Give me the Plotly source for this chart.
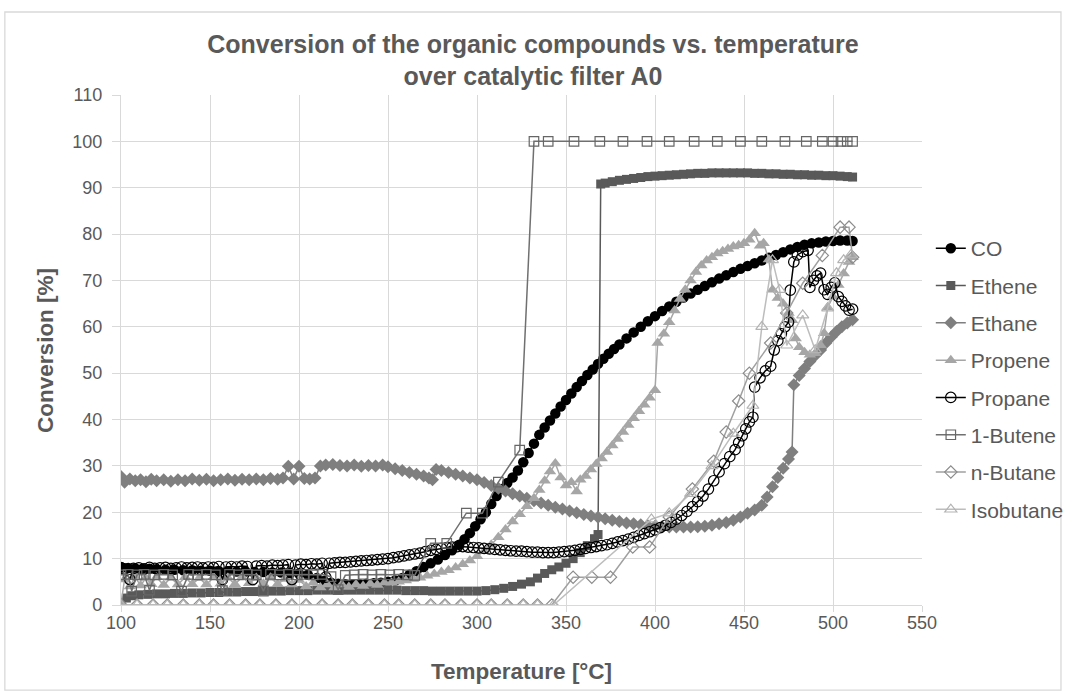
import plotly.graph_objects as go

# ---- data: (temperature degC, conversion %) ----
CO_PTS = [(100,8.2),(104,8.0),(108,7.9),(112,7.8),(116,7.8),(120,7.7),(125,7.6),(130,7.6),(135,7.5),(140,7.5),
          (145,7.4),(150,7.4),(155,7.3),(160,7.3),(165,7.2),(170,7.2),(175,7.1),(180,7.1),(185,7.0),(190,7.0),
          (195,6.9),(200,6.8),(205,6.5),(210,5.8),(214,5.2),(218,4.8),(222,4.6),(226,4.5),(230,4.5),(234,4.5),
          (238,4.6),(242,4.7),(246,4.8),(250,5.0),(254,5.3),(258,5.8),(262,6.5),(266,7.3),(270,8.2),(274,9.0),
          (278,9.8),(282,10.8),(286,11.8),(290,13.0),(293,14.2),(296,15.5),(299,17.0),(302,18.5),(305,20.0),(308,21.8),
          (311,23.5),(314,25.0),(317,26.3),(320,27.5),(323,29.0),(326,30.8),(329,32.8),(332,34.8),(335,36.7),(338,38.3),
          (341,39.8),(344,41.3),(347,42.8),(350,44.2),(353,45.6),(356,47.0),(359,48.3),(362,49.6),(365,50.8),(368,52.0),
          (371,53.1),(374,54.2),(377,55.2),(380,56.2),(384,57.5),(388,58.8),(392,60.0),(396,61.2),(400,62.3),(404,63.4),
          (408,64.4),(412,65.4),(416,66.3),(420,67.2),(424,68.0),(428,68.8),(432,69.6),(436,70.4),(440,71.1),(444,71.8),
          (448,72.5),(452,73.1),(456,73.7),(460,74.3),(464,74.9),(468,75.5),(472,76.1),(476,76.7),(480,77.2),(484,77.7),
          (488,78.0),(492,78.2),(496,78.4),(500,78.5),(504,78.6),(508,78.6),(511,78.5)]

ETHENE_PTS = [(100,0.3),(103,1.5),(106,2.0),(110,2.2),(115,2.3),(120,2.4),(125,2.4),(130,2.5),(135,2.5),(140,2.6),
              (145,2.6),(150,2.7),(155,2.7),(160,2.8),(165,2.8),(170,2.9),(175,2.9),(180,3.0),(185,3.0),(190,3.0),
              (195,3.1),(200,3.1),(205,3.1),(210,3.2),(215,3.2),(220,3.2),(225,3.2),(230,3.2),(235,3.2),(240,3.2),
              (245,3.2),(250,3.2),(255,3.2),(260,3.1),(265,3.1),(270,3.1),(275,3.0),(280,3.0),(285,3.0),(290,3.0),
              (295,3.0),(300,3.0),(305,3.1),(310,3.3),(315,3.6),(320,4.0),(325,4.5),(330,5.0),(334,5.8),(338,6.8),
              (342,7.6),(346,8.2),(350,9.0),(354,10.0),(358,11.3),(362,12.8),(366,14.3),(368,15.2),(369.5,90.8),(372,91.0),
              (376,91.3),(380,91.6),(384,91.8),(388,92.0),(392,92.2),(396,92.4),(400,92.5),(404,92.6),(408,92.7),(412,92.8),
              (416,92.9),(420,93.0),(424,93.1),(428,93.1),(432,93.2),(436,93.2),(440,93.2),(444,93.2),(448,93.2),(452,93.2),
              (456,93.1),(460,93.1),(464,93.0),(468,93.0),(472,92.9),(476,92.9),(480,92.8),(484,92.8),(488,92.7),(492,92.7),
              (496,92.6),(500,92.6),(504,92.5),(508,92.4),(511,92.3)]

ETHANE_PTS = [(100,27.7),(102,26.5),(105,27.2),(108,26.8),(111,27.0),(114,26.6),(117,27.1),(120,26.8),(124,27.0),(128,26.7),
              (132,27.0),(136,26.8),(140,27.2),(144,26.9),(148,27.1),(152,26.8),(156,27.0),(160,27.2),(164,26.9),(168,27.1),
              (172,27.0),(176,27.2),(180,27.0),(184,27.3),(188,27.1),(191,27.4),(194,29.9),(197,27.2),(200,29.9),(203,27.3),
              (206,27.2),(209,27.4),(212,30.0),(215,30.2),(219,30.3),(223,30.1),(227,30.0),(231,30.2),(235,29.9),(239,30.1),
              (243,30.0),(247,30.2),(250,29.8),(254,29.4),(258,29.0),(262,28.6),(266,28.2),(270,27.8),(273,27.4),(275,27.0),
              (277,29.2),(280,29.0),(284,28.6),(288,28.2),(292,27.8),(296,27.4),(300,27.0),(304,26.4),(308,25.8),(312,25.2),
              (316,24.6),(320,24.0),(324,23.5),(328,23.0),(332,22.5),(336,22.0),(340,21.5),(344,21.1),(348,20.7),(352,20.3),
              (356,19.9),(360,19.5),(364,19.2),(368,18.9),(372,18.6),(376,18.3),(380,18.0),(384,17.7),(388,17.5),(392,17.3),
              (396,17.1),(400,17.0),(404,16.9),(408,16.8),(412,16.8),(416,16.8),(420,16.8),(424,16.9),(428,17.0),(432,17.2),
              (436,17.5),(440,17.8),(444,18.3),(448,19.0),(452,19.8),(456,20.5),(460,21.5),(463,23.3),(466,25.5),(469,27.5),
              (472,29.5),(475,31.5),(477,33.0),(478,47.5),(481,49.5),(484,51.0),(487,52.5),(490,53.8),(493,55.0),(496,56.5),
              (499,57.8),(502,59.0),(505,60.0),(508,60.8),(511,61.5)]

PROPENE_PTS = [(100,0.3),(102,5.5),(105,4.0),(108,6.0),(111,4.2),(114,5.8),(117,4.5),(120,6.0),(124,4.3),(128,5.9),
               (132,4.4),(136,6.0),(140,4.5),(144,5.8),(148,4.4),(152,6.0),(156,4.6),(160,5.9),(164,4.5),(168,6.0),
               (172,4.7),(176,5.8),(180,4.6),(184,5.9),(188,4.5),(192,5.6),(196,4.4),(200,5.4),(204,4.0),(208,4.8),
               (212,3.8),(216,4.4),(220,3.8),(224,4.4),(228,3.9),(232,4.4),(236,4.1),(240,4.6),(244,4.3),(248,4.8),
               (252,4.8),(256,5.0),(260,5.3),(264,5.6),(268,5.9),(272,6.3),(276,6.7),(280,7.1),(284,7.5),(288,8.1),
               (292,8.8),(296,9.6),(300,10.5),(304,11.6),(308,13.0),(312,14.6),(316,16.3),(320,18.0),(324,19.6),(328,21.3),
               (332,23.0),(335,24.8),(338,26.8),(341,28.8),(344,30.5),(347,27.5),(350,25.8),(353,26.5),(356,24.5),(358,27.0),
               (361,27.8),(364,29.2),(367,30.4),(370,31.6),(373,33.0),(376,34.4),(379,35.8),(382,37.3),(385,38.8),(388,40.3),
               (391,41.8),(394,43.2),(397,44.7),(400,46.3),(401.5,56.5),(405,58.5),(408,61.0),(411,63.5),(414,66.0),(417,68.0),
               (420,70.0),(423,71.8),(426,73.2),(429,74.3),(432,75.0),(435,75.8),(438,76.3),(441,76.8),(444,77.3),(447,77.6),
               (450,78.0),(453,78.8),(456,80.2),(459,77.5),(461,78.0),(464,74.5),(466,68.0),(469,66.2),(472,65.0),(475,63.0),
               (477,61.4),(479,57.5),(481,55.6),(484,54.5),(487,54.0),(490,54.3),(493,56.0),(495,58.6),(497,64.2),(500,66.5),
               (503,69.0),(506,71.5),(509,74.0),(511,75.0)]

PROPANE_PTS = [(100,8.0),(102,7.8),(105,5.5),(107,7.9),(110,8.0),(113,7.8),(116,8.1),(119,7.9),(122,8.0),(125,8.1),
               (128,7.9),(131,8.0),(134,8.2),(137,8.0),(140,8.1),(143,8.2),(146,8.0),(149,8.2),(152,8.1),(155,8.3),
               (157,5.5),(159,8.2),(162,8.3),(165,8.2),(168,8.4),(171,8.3),(174,5.5),(176,8.4),(179,8.5),(182,8.4),
               (185,8.6),(188,8.5),(191,8.6),(194,8.7),(196,5.5),(198,8.6),(201,8.8),(204,8.7),(207,8.9),(210,8.8),
               (213,9.0),(215,6.0),(217,9.0),(220,9.1),(223,9.2),(226,9.2),(229,9.3),(232,9.4),(235,9.5),(238,9.6),
               (241,9.7),(244,9.8),(247,9.9),(250,10.0),(253,10.2),(256,10.4),(259,10.6),(262,10.8),(265,11.0),(268,11.2),
               (271,11.5),(274,11.8),(277,12.0),(280,12.2),(283,12.4),(286,12.5),(289,12.6),(292,12.6),(295,12.5),(298,12.4),
               (301,12.3),(304,12.2),(307,12.1),(310,12.0),(313,11.9),(316,11.8),(319,11.7),(322,11.6),(325,11.6),(328,11.5),
               (331,11.4),(334,11.4),(337,11.3),(340,11.3),(343,11.3),(346,11.4),(349,11.5),(352,11.6),(355,11.8),(358,12.0),
               (361,12.2),(364,12.4),(367,12.6),(370,12.8),(373,13.0),(376,13.3),(379,13.6),(382,13.9),(385,14.2),(388,14.6),
               (391,15.0),(394,15.4),(397,15.8),(400,16.2),(403,16.7),(406,17.2),(409,17.8),(412,18.5),(415,19.3),(418,20.2),
               (421,21.2),(424,22.3),(427,23.5),(430,25.0),(433,26.8),(436,28.7),(439,30.5),(442,32.0),(445,33.5),(447,35.0),
               (449,36.5),(451,38.0),(453,39.5),(455,40.5),(456,47.0),(459,49.0),(462,50.5),(465,51.5),(467,55.0),(469,57.0),
               (471,58.5),(473,60.0),(475,61.0),(476,67.9),(478,74.0),(480,75.5),(483,76.2),(486,76.5),(487,68.5),(489,70.0),
               (491,71.0),(493,71.6),(495,68.0),(497,67.0),(499,68.5),(501,69.5),(503,66.5),(505,65.5),(507,64.5),(509,63.6),
               (511,63.8)]

BUTENE_PTS = [(100,6.5),(104,6.6),(106,3.0),(109,6.5),(113,6.6),(116,3.2),(119,6.5),(124,6.6),(129,6.5),(134,3.0),
              (138,6.6),(143,6.5),(148,6.6),(153,6.5),(157,3.1),(161,6.6),(166,6.5),(171,6.6),(176,6.5),(180,3.0),
              (184,6.6),(189,6.5),(194,6.6),(199,6.5),(203,6.6),(208,6.5),(213,6.6),(218,6.1),(222,3.3),(226,6.4),
              (231,6.5),(236,6.6),(241,6.5),(246,6.6),(251,6.5),(256,6.6),(261,6.5),(265,6.4),(274,13.3),(283,13.3),
              (294,19.8),(303,19.8),(312,26.5),(324,33.4),(332,100),(340,100),(354.5,100),(369,100),(382,100),(395.5,100),
              (408,100),(422,100),(435,100),(448,100),(460,100),(473,100),(485,100),(494,100),(500,100),(504.5,100),
              (508,100),(511,100)]

NBUTANE_PTS = [(100,0),(109,0),(118,0),(126,0),(135,0),(144,0),(152,0),(161,0),(170,0),(178,0),
               (187,0),(196,0),(204,0),(213,0),(222,0),(230,0),(239,0),(248,0),(256,0),(265,0),
               (274,0),(282,0),(291,0),(300,0),(308,0),(317,0),(326,0),(334,0),(342,0),(354,6.0),
               (364.5,6.0),(375,6.0),(387.5,12.5),(397,12.5),(408,19.0),(421,25.0),(433,31.0),(440,37.3),(447,44.0),(453,50.0),
               (465,56.5),(474,63.0),(483,69.4),(494,75.4),(504,81.5),(509,81.5),(511,75.0)]

ISOBUTANE_PTS = [(100,0),(109,0),(118,0),(126,0),(135,0),(144,0),(152,0),(161,0),(170,0),(178,0),
                 (187,0),(196,0),(204,0),(213,0),(222,0),(230,0),(239,0),(248,0),(256,0),(265,0),
                 (274,0),(282,0),(291,0),(300,0),(308,0),(317,0),(326,0),(334,0),(343,0),(398,18.5),
                 (408,19.8),(420,24.0),(432,30.0),(444,37.0),(455,43.0),(460,60.0),(466,74.4),(470,68.0),(474,56.0),(483,62.5),
                 (490,55.0),(497,64.0),(502,71.6),(506,74.4),(510,75.5)]

SERIES = [
    ("CO", CO_PTS, dict(symbol="circle", size=10.5, color="#000000", line=dict(width=0)), "#000000"),
    ("Ethene", ETHENE_PTS, dict(symbol="square", size=9, color="#595959", line=dict(width=0)), "#595959"),
    ("Ethane", ETHANE_PTS, dict(symbol="diamond", size=10, color="#7f7f7f", line=dict(width=0)), "#7f7f7f"),
    ("Propene", PROPENE_PTS, dict(symbol="triangle-up", size=11, color="#a6a6a6", line=dict(width=0)), "#a6a6a6"),
    ("Propane", PROPANE_PTS, dict(symbol="circle-open", size=10.5, color="#000000", line=dict(width=1.2)), "#000000"),
    ("1-Butene", BUTENE_PTS, dict(symbol="square-open", size=9.5, color="#666666", line=dict(width=1.2)), "#707070"),
    ("n-Butane", NBUTANE_PTS, dict(symbol="diamond-open", size=9.5, color="#8c8c8c", line=dict(width=1.2)), "#a0a0a0"),
    ("Isobutane", ISOBUTANE_PTS, dict(symbol="triangle-up-open", size=10.5, color="#b3b3b3", line=dict(width=1.2)), "#bdbdbd"),
]

X_TICKS = [100, 150, 200, 250, 300, 350, 400, 450, 500, 550]
Y_TICKS = [0, 10, 20, 30, 40, 50, 60, 70, 80, 90, 100, 110]

TXT = "#595959"
GRID = "#d9d9d9"
FONT = "Liberation Sans, Arial, sans-serif"

fig = go.Figure()
for i, (name, pts, marker, lcol) in enumerate(SERIES):
    xs = [p[0] for p in pts]
    ys = [p[1] for p in pts]
    fig.add_trace(go.Scatter(
        x=xs, y=ys, name=name, mode="lines+markers",
        line=dict(color=lcol, width=1.5),
        marker=marker, legendgroup="g%d" % i,
    ))

fig.update_layout(
    width=1066, height=695,
    margin=dict(l=121, r=144, t=95, b=90, autoexpand=False),
    paper_bgcolor="white", plot_bgcolor="white",
    font=dict(family=FONT, color=TXT, size=17),
    title=dict(
        text="<b>Conversion of the organic compounds vs. temperature<br>over catalytic filter A0</b>",
        x=0.5, xanchor="center", xref="container",
        y=0.924, yanchor="top", yref="container",
        font=dict(family=FONT, size=25, color=TXT),
    ),
    xaxis=dict(range=[100, 550], tickvals=X_TICKS, showgrid=True, gridcolor=GRID, gridwidth=1.3,
               showline=True, linecolor=GRID, linewidth=1.3, ticks="outside", ticklen=6, tickcolor=GRID,
               ticklabelstandoff=-5,
               zeroline=False, tickfont=dict(size=18, color=TXT)),
    yaxis=dict(range=[0, 110], tickvals=Y_TICKS, showgrid=True, gridcolor=GRID, gridwidth=1.3,
               showline=True, linecolor=GRID, linewidth=1.3, ticks="outside", ticklen=8, tickcolor=GRID,
               ticklabelstandoff=6,
               zeroline=False, tickfont=dict(size=18, color=TXT)),
    legend=dict(x=1.011, xanchor="left", y=0.739, yanchor="top",
                font=dict(family=FONT, size=21, color=TXT),
                tracegroupgap=7, bgcolor="rgba(0,0,0,0)"),
    showlegend=True,
    annotations=[
        dict(text="<b>Conversion [%]</b>", x=-0.095, y=0.5, xref="paper", yref="paper",
             textangle=-90, showarrow=False, font=dict(size=22.5, color=TXT, family=FONT),
             xanchor="center", yanchor="middle"),
        dict(text="<b>Temperature [°C]</b>", x=0.5, y=-0.131, xref="paper", yref="paper",
             showarrow=False, font=dict(size=22.5, color=TXT, family=FONT),
             xanchor="center", yanchor="middle"),
    ],
    shapes=[dict(type="rect", xref="paper", yref="paper", x0=-0.145, x1=1.1735, y0=-0.167, y1=1.1627,
                 line=dict(color=GRID, width=1.3), fillcolor="rgba(0,0,0,0)", layer="below")],
)

fig.write_html("out.html", config={"displayModeBar": False})
